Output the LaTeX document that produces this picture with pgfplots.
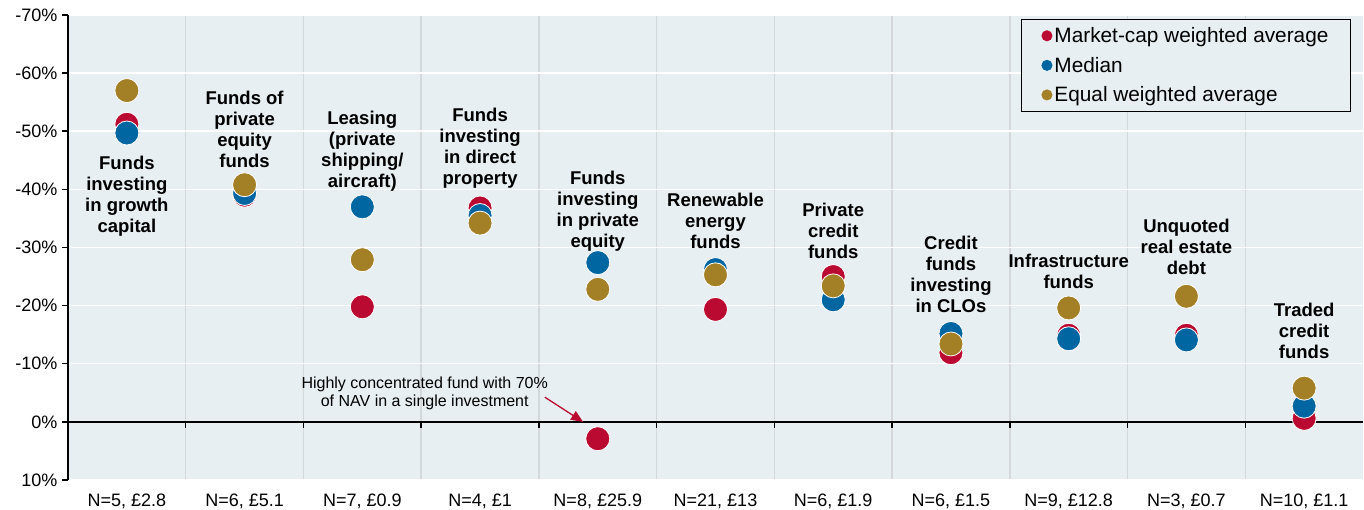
\documentclass[border=0pt]{standalone}
\usepackage{pgfplots}
\pgfplotsset{compat=1.18}
\usepackage{fontspec}
\setmainfont{Liberation Sans}
\usetikzlibrary{arrows.meta}
\definecolor{redc}{HTML}{BB0A31}
\definecolor{bluec}{HTML}{0066A1}
\definecolor{goldc}{HTML}{A37F26}
\definecolor{bgc}{HTML}{E7EFF2}
\definecolor{vgrid}{HTML}{D4D8DA}
\begin{document}
\begin{tikzpicture}
\begin{axis}[
  name=ax,
  width=1295pt, height=465pt, scale only axis,
  xmin=-0.5, xmax=10.5,
  ymin=-70, ymax=10, y dir=reverse,
  axis background/.style={fill=bgc},
  axis line style={draw=none},
  tick style={draw=none},
  xtick={0,...,10},
  xticklabels={{N=5, £2.8},{N=6, £5.1},{N=7, £0.9},{N=4, £1},{N=8, £25.9},{N=21, £13},{N=6, £1.9},{N=6, £1.5},{N=9, £12.8},{N=3, £0.7},{N=10, £1.1}},
  minor xtick={0.5,1.5,...,9.5},
  xminorgrids=true,
  minor grid style={vgrid, line width=1.5pt},
  ytick={-70,-60,-50,-40,-30,-20,-10,0,10},
  yticklabels={-70\%,-60\%,-50\%,-40\%,-30\%,-20\%,-10\%,0\%,10\%},
  ymajorgrids=true,
  major grid style={white, line width=1.5pt},
  ticklabel style={font=\fontsize{18}{21}\selectfont},
  xticklabel style={yshift=-10pt},
  yticklabel style={xshift=-7pt},
  clip=false,
  legend style={at={(rel axis cs:0.9907,0.9914)}, anchor=north east,
    draw=black, line width=1pt, fill=bgc,
    font=\fontsize{20.8}{24}\selectfont,
    inner xsep=20pt, inner ysep=6pt, row sep=9pt,
    cells={anchor=west}},
  legend image code/.code={},
]
\addplot[only marks, mark=*, mark size=12pt, mark options={fill=redc, draw=white, line width=0.8pt},
  legend image code/.code={\fill[redc] (0.35cm,0cm) circle (5pt);}]
  coordinates {(0,-51.2) (1,-39.0) (2,-19.8) (3,-36.8) (4,2.9) (5,-19.35) (6,-25.0) (7,-11.9) (8,-14.9) (9,-14.9) (10,-0.6)};
\addlegendentry{Market-cap weighted average}
\addplot[only marks, mark=*, mark size=12pt, mark options={fill=bluec, draw=white, line width=0.8pt},
  legend image code/.code={\fill[bluec] (0.35cm,0cm) circle (5pt);}]
  coordinates {(0,-49.7) (1,-39.3) (2,-37.0) (3,-35.5) (4,-27.4) (5,-26.2) (6,-21.0) (7,-15.2) (8,-14.3) (9,-14.1) (10,-2.7)};
\addlegendentry{Median}
\addplot[only marks, mark=*, mark size=12pt, mark options={fill=goldc, draw=white, line width=0.8pt},
  legend image code/.code={\fill[goldc] (0.35cm,0cm) circle (5pt);}]
  coordinates {(0,-57.0) (1,-40.8) (2,-27.9) (3,-34.2) (4,-22.8) (5,-25.3) (6,-23.4) (7,-13.4) (8,-19.6) (9,-21.6) (10,-5.8)};
\addlegendentry{Equal weighted average}
% axes lines
\draw[black, line width=1.5pt] (rel axis cs:0,0) -- (rel axis cs:0,1);
\pgfplotsinvokeforeach{-70,-60,-50,-40,-30,-20,-10,0,10}{\draw[black, line width=1.5pt] (axis cs:-0.5,#1) -- ([xshift=-6pt]axis cs:-0.5,#1);}
\draw[black, line width=2pt] (axis cs:-0.5,0) -- (axis cs:10.5,0);
\pgfplotsinvokeforeach{-0.5,0.5,1.5,2.5,3.5,4.5,5.5,6.5,7.5,8.5,9.5}{\draw[black, line width=1.5pt] (axis cs:#1,0) -- ([yshift=-6pt]axis cs:#1,0);}
% category labels
\tikzset{cat/.style={font=\bfseries\fontsize{18.5}{21}\selectfont, align=center, anchor=center, inner sep=0pt}}
\node[cat] at (axis cs:0,-38.9) {Funds\\investing\\in growth\\capital};
\node[cat] at (axis cs:1,-50.4) {Funds of\\private\\equity\\funds};
\node[cat] at (axis cs:2,-46.6) {Leasing\\(private\\shipping/\\aircraft)};
\node[cat] at (axis cs:3,-47.0) {Funds\\investing\\in direct\\property};
\node[cat] at (axis cs:4,-36.3) {Funds\\investing\\in private\\equity};
\node[cat] at (axis cs:5,-34.5) {Renewable\\energy\\funds};
\node[cat] at (axis cs:6,-32.8) {Private\\credit\\funds};
\node[cat] at (axis cs:7,-25.3) {Credit\\funds\\investing\\in CLOs};
\node[cat] at (axis cs:8,-25.9) {Infrastructure\\funds};
\node[cat] at (axis cs:9,-30.1) {Unquoted\\real estate\\debt};
\node[cat] at (axis cs:10,-15.7) {Traded\\credit\\funds};
% annotation
\node[font=\fontsize{16}{18}\selectfont, align=center, inner sep=0pt] at (axis cs:2.53,-4.9) {Highly concentrated fund with 70\%\\of NAV in a single investment};
\draw[redc, line width=1.3pt, -{Triangle[length=12pt,width=10pt]}] (axis cs:3.55,-4.25) -- (axis cs:3.875,0);
\end{axis}
\pgfresetboundingbox
\path ([xshift=-68pt,yshift=-30pt]ax.south west) rectangle ([xshift=1pt,yshift=15pt]ax.north east);
\end{tikzpicture}
\end{document}
